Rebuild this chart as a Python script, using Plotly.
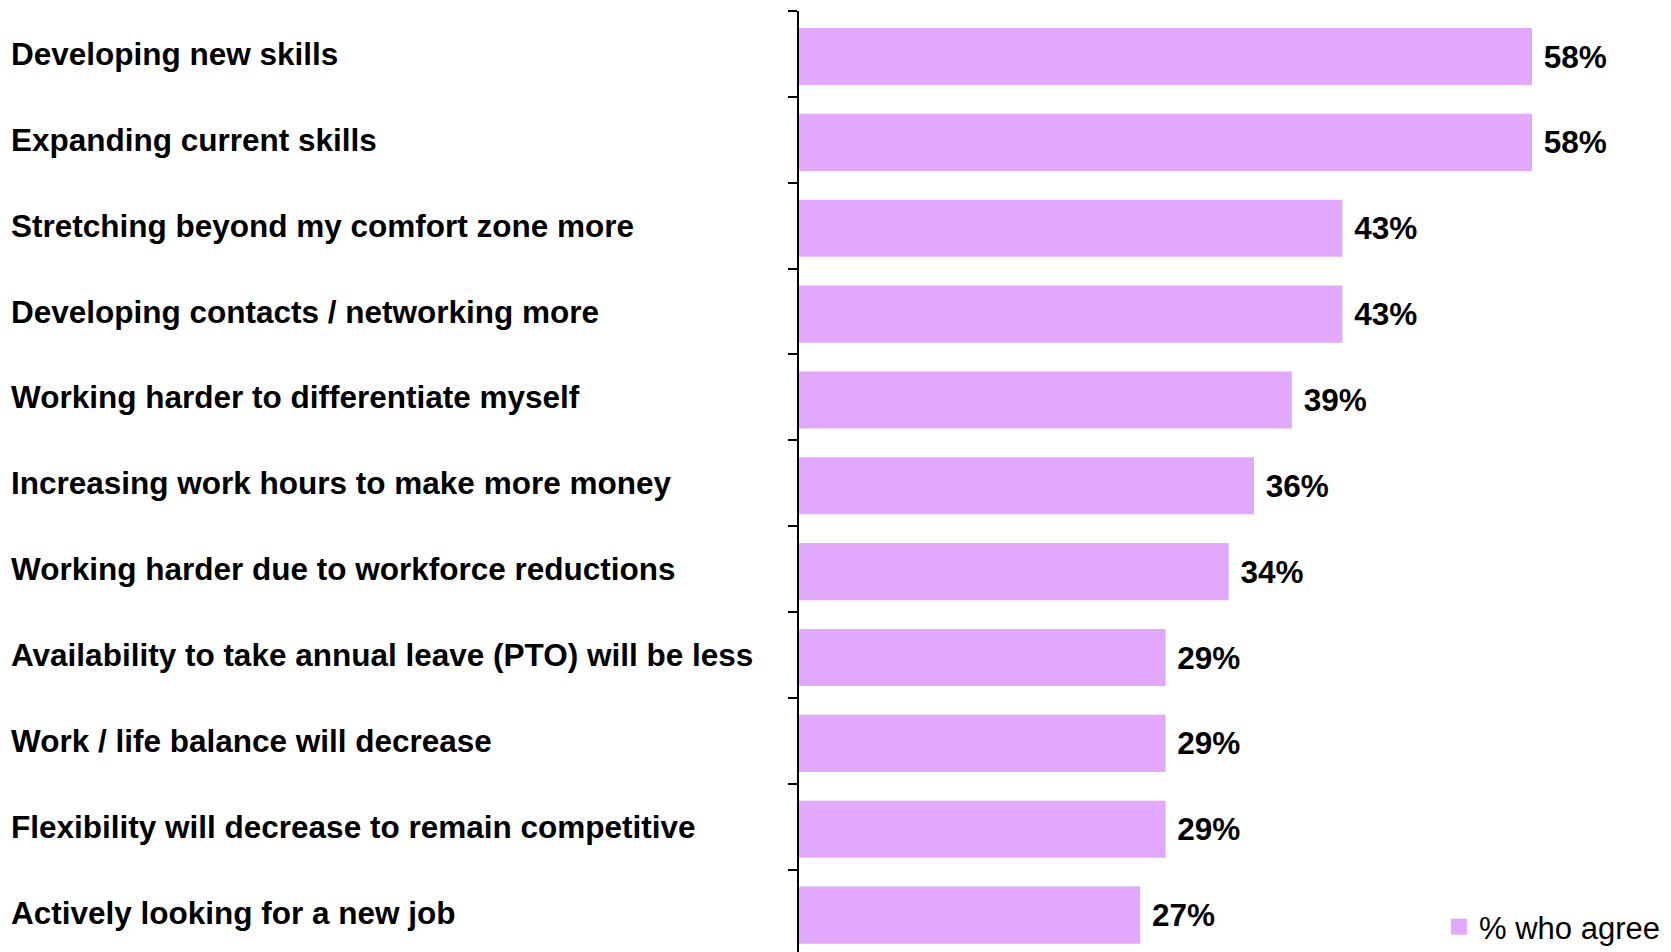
import plotly.graph_objects as go

# Survey statements and share of respondents who agree (%)
statements = [
    "Developing new skills",
    "Expanding current skills",
    "Stretching beyond my comfort zone more",
    "Developing contacts / networking more",
    "Working harder to differentiate myself",
    "Increasing work hours to make more money",
    "Working harder due to workforce reductions",
    "Availability to take annual leave (PTO) will be less",
    "Work / life balance will decrease",
    "Flexibility will decrease to remain competitive",
    "Actively looking for a new job",
]
agree_pct = [58, 58, 43, 43, 39, 36, 34, 29, 29, 29, 27]
series_name = "% who agree"

W, H = 1671, 952
M_L, M_R, M_T, M_B = 799, 0, 11, 0
FONT = "Liberation Sans, Arial, sans-serif"
BAR_COLOR = "#E2A8FC"
BAR_W = 0.665

plot_w = W - M_L - M_R
plot_h = H - M_T - M_B
px_per_pct = (1532 - M_L) / 58

fig = go.Figure()
fig.add_trace(go.Bar(
    x=agree_pct,
    y=statements,
    orientation="h",
    name=series_name,
    marker=dict(color=BAR_COLOR, line=dict(width=0)),
    width=BAR_W,
    offset=-BAR_W / 2 + 0.03,
    text=[f" {v}%" for v in agree_pct],
    textposition="outside",
    constraintext="none",
    cliponaxis=False,
    textfont=dict(family=FONT, size=31.5, color="black", weight="bold"),
    showlegend=False,
))

# Legend entry with a larger square swatch
fig.add_trace(go.Scatter(
    x=[None], y=[None],
    mode="markers",
    name=series_name,
    marker=dict(symbol="square", size=16, color=BAR_COLOR, line=dict(width=0)),
    showlegend=True,
))

# Statement labels, left-aligned at the page edge
for s in statements:
    fig.add_annotation(
        x=(9 - M_L) / plot_w, xref="paper",
        y=s, yref="y",
        text=s, showarrow=False,
        xanchor="left", yanchor="middle",
        font=dict(family=FONT, size=31.5, color="black", weight="bold"),
    )

fig.update_layout(
    width=W, height=H,
    margin=dict(l=M_L, r=M_R, t=M_T, b=M_B, autoexpand=False),
    paper_bgcolor="white",
    plot_bgcolor="white",
    xaxis=dict(
        range=[0, plot_w / px_per_pct],
        visible=False,
        showgrid=False,
        zeroline=False,
    ),
    yaxis=dict(
        type="category",
        categoryorder="array",
        categoryarray=statements,
        range=[10.46, -0.5],
        showticklabels=False,
        showgrid=False,
        zeroline=False,
        showline=True,
        linecolor="black",
        linewidth=2,
        ticks="outside",
        tickson="boundaries",
        ticklen=9,
        tickwidth=2,
        tickcolor="black",
    ),
    legend=dict(
        x=(1439 - M_L) / plot_w, xanchor="left",
        y=(H - 927) / plot_h, yanchor="middle",
        font=dict(family=FONT, size=31, color="black"),
        bgcolor="rgba(0,0,0,0)",
        itemsizing="trace",
    ),
    font=dict(family=FONT, color="black"),
)

fig.write_html("out.html")
